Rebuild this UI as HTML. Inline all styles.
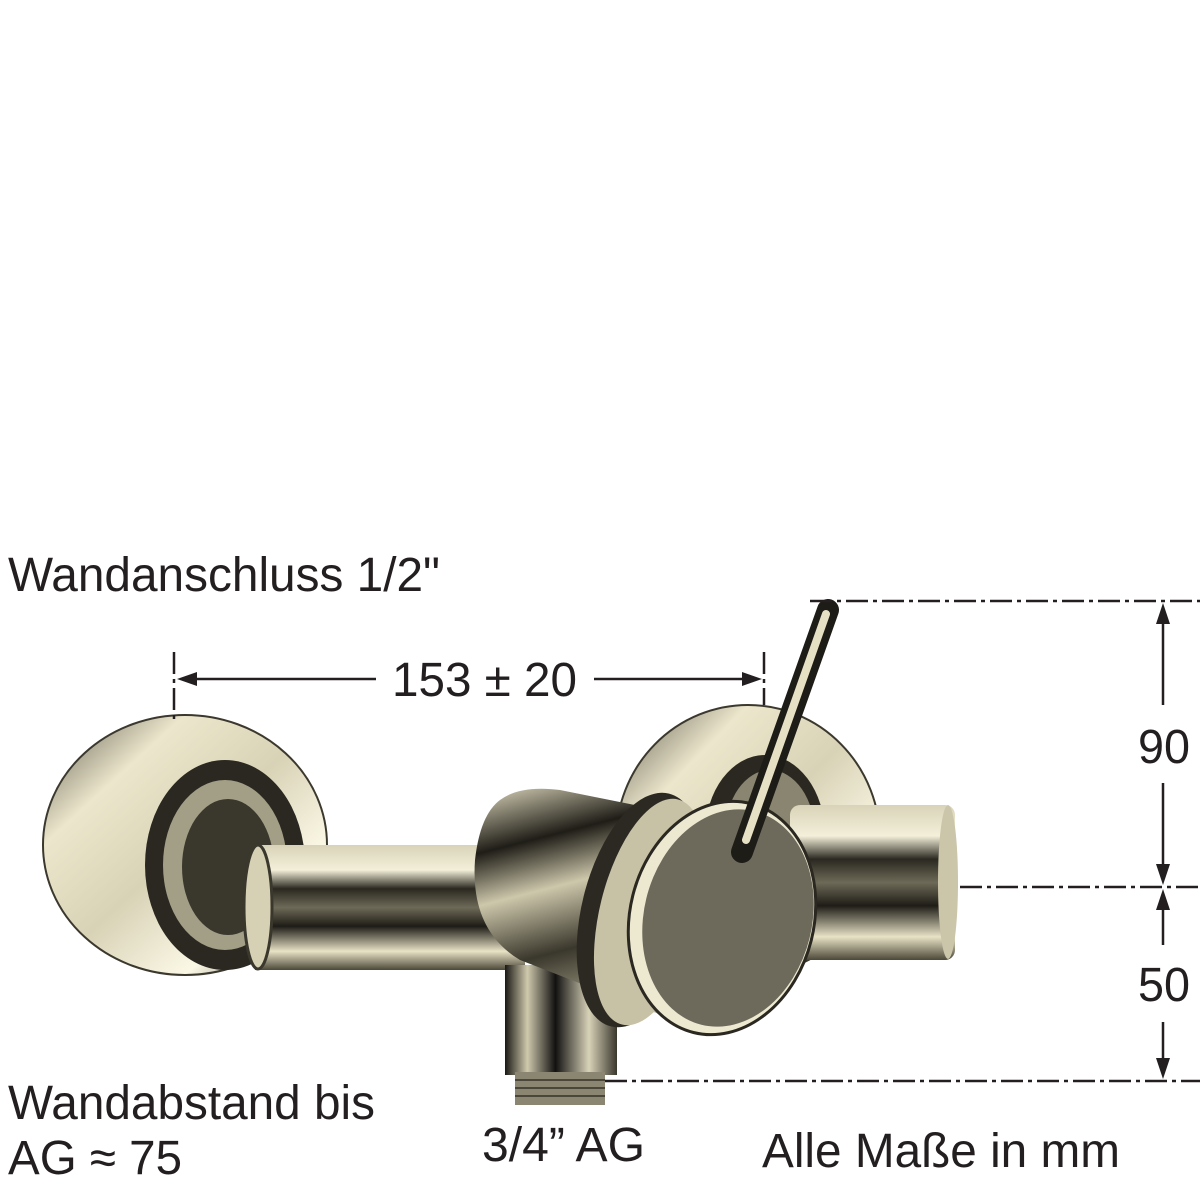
<!DOCTYPE html>
<html><head><meta charset="utf-8"><style>
html,body{margin:0;padding:0;background:#fff;width:1200px;height:1200px;overflow:hidden}
svg{display:block}
text{font-family:"Liberation Sans",sans-serif;fill:#231f20}
</style></head><body>
<svg width="1200" height="1200" viewBox="0 0 1200 1200" xmlns="http://www.w3.org/2000/svg">
<defs>
<linearGradient id="ros" x1="0" y1="0" x2="1" y2="1">
<stop offset="0" stop-color="#5a5648"/><stop offset="0.25" stop-color="#ece6cc"/><stop offset="0.5" stop-color="#d8d2b6"/><stop offset="0.75" stop-color="#fbf8e6"/><stop offset="1" stop-color="#4a463a"/></linearGradient>
<linearGradient id="pipeH" x1="0" y1="0" x2="0" y2="1">
<stop offset="0" stop-color="#d8d3b8"/><stop offset="0.2" stop-color="#f3efd9"/><stop offset="0.35" stop-color="#2a2820"/><stop offset="0.5" stop-color="#6e6a58"/><stop offset="0.65" stop-color="#1e1c16"/><stop offset="0.85" stop-color="#e8e2c6"/><stop offset="1" stop-color="#4c4838"/></linearGradient>
<linearGradient id="pipeV" x1="0" y1="0" x2="1" y2="0">
<stop offset="0" stop-color="#1a1814"/><stop offset="0.2" stop-color="#cfc9ad"/><stop offset="0.45" stop-color="#121110"/><stop offset="0.75" stop-color="#d8d2b8"/><stop offset="1" stop-color="#3a372d"/></linearGradient>
<linearGradient id="body" x1="0" y1="0" x2="0.3" y2="1">
<stop offset="0" stop-color="#ddd7bc"/><stop offset="0.25" stop-color="#1f1d17"/><stop offset="0.45" stop-color="#cdc7ab"/><stop offset="0.7" stop-color="#3a372c"/><stop offset="1" stop-color="#bfb99e"/></linearGradient>
</defs>

<ellipse cx="748" cy="840" rx="132" ry="135" fill="url(#ros)" stroke="#3b382e" stroke-width="2"/>
<ellipse cx="765" cy="835" rx="60" ry="80" fill="#2a2820"/>
<ellipse cx="770" cy="835" rx="45" ry="65" fill="#8a8570"/>
<rect x="790" y="805" width="165" height="155" rx="10" fill="url(#pipeH)"/>
<ellipse cx="948" cy="882" rx="10" ry="77" fill="#cbc5aa"/>

<ellipse cx="185" cy="845" rx="142" ry="130" fill="url(#ros)" stroke="#3b382e" stroke-width="2"/>
<ellipse cx="225" cy="865" rx="80" ry="105" fill="#2a2820"/>
<ellipse cx="225" cy="865" rx="62" ry="85" fill="#a39e86"/>
<ellipse cx="228" cy="867" rx="46" ry="68" fill="#3a372d"/>
<rect x="255" y="845" width="270" height="125" fill="url(#pipeH)"/>
<ellipse cx="258" cy="907" rx="14" ry="62" fill="#d6d0b4" stroke="#3a372d" stroke-width="3"/>

<rect x="505" y="965" width="112" height="110" fill="url(#pipeV)"/>
<rect x="515" y="1072" width="90" height="33" fill="#8b8672"/>
<g stroke="#4a463a" stroke-width="2"><line x1="515" y1="1080" x2="605" y2="1080"/><line x1="515" y1="1088" x2="605" y2="1088"/><line x1="515" y1="1096" x2="605" y2="1096"/></g>

<path d="M500 800 Q520 785 560 790 L760 830 L700 1030 L520 960 Q470 930 475 860 Q480 815 500 800 Z" fill="url(#body)"/>
<ellipse cx="640" cy="910" rx="58" ry="120" transform="rotate(14 640 910)" fill="#2b2922"/>
<ellipse cx="650" cy="912" rx="50" ry="116" transform="rotate(14 650 912)" fill="#c7c1a5"/>
<ellipse cx="722" cy="918" rx="92" ry="118" transform="rotate(14 722 918)" fill="#ede8d0" stroke="#2a2820" stroke-width="3"/>
<ellipse cx="728" cy="918" rx="84" ry="110" transform="rotate(14 728 918)" fill="#6d6a5c"/>

<line x1="828" y1="610" x2="742" y2="852" stroke="#1e1c17" stroke-width="22" stroke-linecap="round"/>
<line x1="826" y1="614" x2="746" y2="840" stroke="#e6e0c4" stroke-width="8" stroke-linecap="round"/>

<g stroke="#231f20" stroke-width="2.5" fill="none" stroke-dasharray="22,5,4,5">
<line x1="174" y1="652" x2="174" y2="722"/>
<line x1="764" y1="652" x2="764" y2="705"/>
<line x1="810" y1="601" x2="1200" y2="601"/>
<line x1="960" y1="887" x2="1200" y2="887"/>
<line x1="605" y1="1081" x2="1200" y2="1081"/>
</g>
<g stroke="#231f20" stroke-width="2.5">
<line x1="190" y1="679" x2="376" y2="679"/>
<line x1="594" y1="679" x2="750" y2="679"/>
<line x1="1163" y1="615" x2="1163" y2="705"/>
<line x1="1163" y1="783" x2="1163" y2="873"/>
<line x1="1163" y1="901" x2="1163" y2="945"/>
<line x1="1163" y1="1022" x2="1163" y2="1067"/>
</g>
<g fill="#231f20">
<polygon points="177,679 197,672 197,686"/>
<polygon points="762,679 742,672 742,686"/>
<polygon points="1163,603 1156,624 1170,624"/>
<polygon points="1163,885 1156,864 1170,864"/>
<polygon points="1163,889 1156,910 1170,910"/>
<polygon points="1163,1079 1156,1058 1170,1058"/>
</g>

<g font-size="48">
<text x="8" y="591" textLength="432" lengthAdjust="spacingAndGlyphs">Wandanschluss 1/2"</text>
<text x="392" y="696" textLength="185" lengthAdjust="spacingAndGlyphs">153 ± 20</text>
<text x="1138" y="763" textLength="52" lengthAdjust="spacingAndGlyphs">90</text>
<text x="1138" y="1001" textLength="52" lengthAdjust="spacingAndGlyphs">50</text>
<text x="8" y="1119" textLength="367" lengthAdjust="spacingAndGlyphs">Wandabstand bis</text>
<text x="8" y="1174" textLength="174" lengthAdjust="spacingAndGlyphs">AG ≈ 75</text>
<text x="482" y="1161" textLength="163" lengthAdjust="spacingAndGlyphs">3/4” AG</text>
<text x="762" y="1167" textLength="358" lengthAdjust="spacingAndGlyphs">Alle Maße in mm</text>
</g>
</svg>
</body></html>
